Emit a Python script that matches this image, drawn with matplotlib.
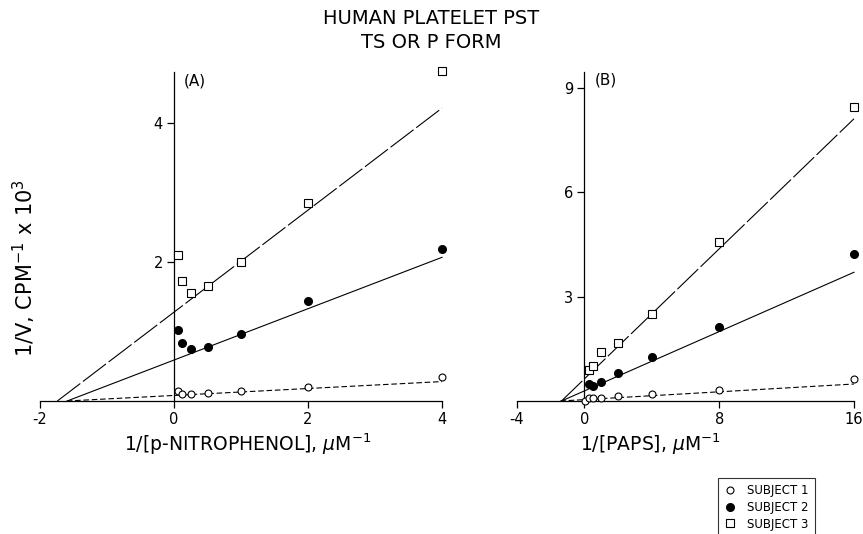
import matplotlib
matplotlib.use('Agg')
import matplotlib.pyplot as plt
import numpy as np

plt.rcParams['font.family'] = 'DejaVu Sans'
plt.rcParams['axes.unicode_minus'] = False

# panel A : 1/[p-nitrophenol]
xa = [0.0625, 0.125, 0.25, 0.5, 1, 2, 4]
a_s1 = [0.14, 0.10, 0.10, 0.11, 0.14, 0.20, 0.35]
a_s2 = [1.02, 0.83, 0.75, 0.78, 0.96, 1.44, 2.19]
a_s3 = [2.10, 1.73, 1.55, 1.65, 2.00, 2.85, 4.76]
# fitted lines (slope, intercept)
a_fit = [(0.05, 0.08), (0.37, 0.59), (0.735, 1.28)]

# panel B : 1/[PAPS]
xb1 = [0.0625, 0.25, 0.5, 1, 2, 4, 8, 16]
b_s1 = [0.01, 0.10, 0.08, 0.08, 0.14, 0.19, 0.31, 0.62]
xb = [0.25, 0.5, 1, 2, 4, 8, 16]
b_s2 = [0.49, 0.43, 0.54, 0.80, 1.26, 2.12, 4.21]
b_s3 = [0.90, 1.00, 1.40, 1.66, 2.50, 4.56, 8.45]
b_fit = [(0.028, 0.04), (0.213, 0.29), (0.467, 0.635)]

labels = ['SUBJECT 1', 'SUBJECT 2', 'SUBJECT 3']
markers = [dict(marker='o', mfc='white', mec='black', ms=5, mew=0.8),
           dict(marker='o', mfc='black', mec='black', ms=5.5),
           dict(marker='s', mfc='white', mec='black', ms=5.8, mew=0.8)]
dashes = [(5, 2.5), None, (26, 3)]

fig = plt.figure(figsize=(8.63, 5.34), dpi=100)
W, H = 863, 534


def make_ax(x0, x1, ytop, xlim, ylim):
    ax = fig.add_axes([x0 / W, (H - 401) / H, (x1 - x0) / W, (401 - ytop) / H])
    ax.set_xlim(*xlim)
    ax.set_ylim(*ylim)
    ax.spines['top'].set_visible(False)
    ax.spines['right'].set_visible(False)
    ax.spines['left'].set_position(('data', 0))
    ax.tick_params(direction='out', length=5, width=0.9, labelsize=10.5, pad=3)
    for s in ['left', 'bottom']:
        ax.spines[s].set_linewidth(0.9)
    ax.patch.set_visible(False)
    return ax


def draw(ax, xs_list, ys_list, fits, xmax):
    handles = []
    for xs, ys, (m, b), mk, ds in zip(xs_list, ys_list, fits, markers, dashes):
        x0 = -b / m
        xl = np.array([x0, xmax])
        ln, = ax.plot(xl, m * xl + b, color='black', lw=0.8, clip_on=False)
        if ds is not None:
            ln.set_dashes(ds)
        h, = ax.plot(xs, ys, linestyle='none', clip_on=False, zorder=3, **mk)
        handles.append(h)
    return handles


axA = make_ax(40, 442, 72, (-2, 4), (0, 4.74))
draw(axA, [xa, xa, xa], [a_s1, a_s2, a_s3], a_fit, 4)
axA.set_xticks([-2, 0, 2, 4])
axA.set_yticks([2, 4])
axA.text(0.15, 4.55, '(A)', fontsize=11)

axB = make_ax(517, 854, 72, (-4, 16), (0, 9.45))
handles = draw(axB, [xb1, xb, xb], [b_s1, b_s2, b_s3], b_fit, 16)
axB.set_xticks([-4, 0, 8, 16])
axB.set_yticks([3, 6, 9])
axB.text(0.6, 9.1, '(B)', fontsize=11)

fig.text(0.5, 1 - 18 / H, 'HUMAN PLATELET PST', ha='center', va='center', fontsize=14)
fig.text(0.5, 1 - 42 / H, 'TS OR P FORM', ha='center', va='center', fontsize=14)
fig.text(24 / W, 1 - 268 / H, r'1/V, CPM$^{-1}$ x 10$^{3}$', rotation=90,
         ha='center', va='center', fontsize=15)
fig.text(248 / W, 1 - 444 / H, r'1/[p-NITROPHENOL], $\mu$M$^{-1}$',
         ha='center', va='center', fontsize=13.5)
fig.text(650 / W, 1 - 444 / H, r'1/[PAPS], $\mu$M$^{-1}$',
         ha='center', va='center', fontsize=13.5)

leg = fig.legend(handles, labels, loc='upper left',
                 bbox_to_anchor=(718 / W, 1 - 478 / H), fontsize=8.5,
                 frameon=True, fancybox=False, edgecolor='black',
                 handlelength=1, handletextpad=0.9, borderpad=0.55,
                 labelspacing=0.3, borderaxespad=0)
leg.get_frame().set_linewidth(0.8)

fig.savefig('out.png', dpi=100, facecolor='white')
